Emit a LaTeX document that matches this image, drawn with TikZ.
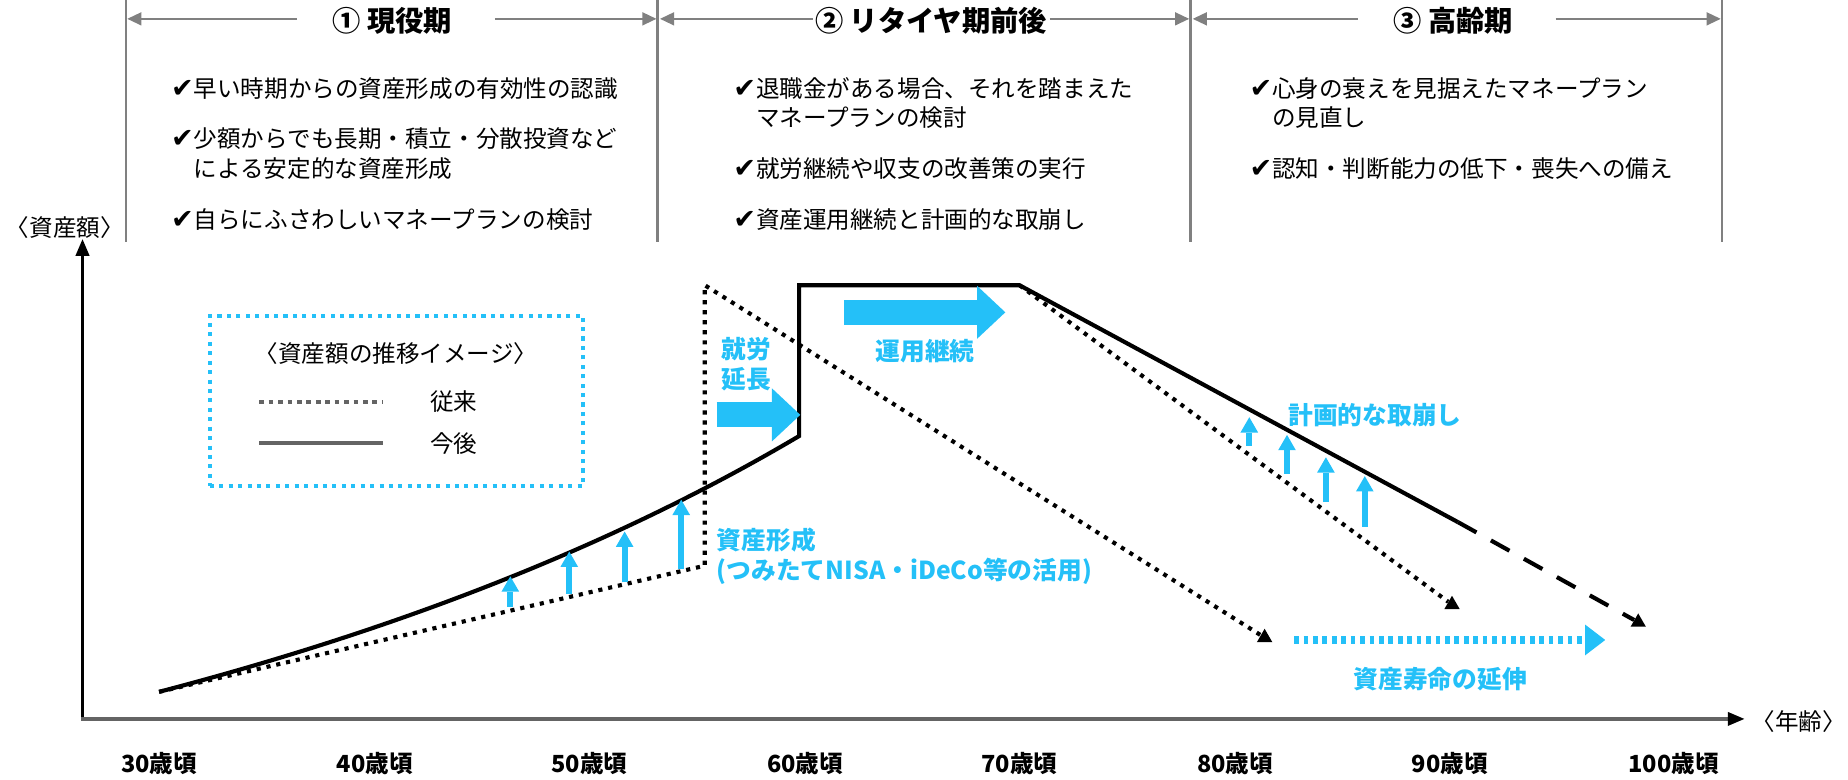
\documentclass[tikz,border=0pt]{standalone}
\usepackage{fontspec}
\setmainfont{Noto Sans CJK JP}
\newfontfamily\symfont{DejaVu Sans}
\usetikzlibrary{arrows.meta,shapes.geometric}
\definecolor{aqua}{RGB}{36,192,248}
\definecolor{hdrgray}{RGB}{128,128,128}
\definecolor{leggray}{RGB}{100,100,100}
\newcommand{\chk}{{\symfont\fontsize{23}{25}\selectfont\char"2714}}
\begin{document}
\begin{tikzpicture}[x=1pt,y=-1pt,
  vline/.style={draw=hdrgray,line width=2pt},
  harrow/.style={draw=hdrgray,line width=1.5pt,-{Triangle[length=12pt,width=11pt]}},
  ttl/.style={font=\fontsize{24}{28}\selectfont\bfseries,inner sep=0pt},
  blt/.style={anchor=west,align=left,inner sep=0pt,font=\fontsize{20}{25}\selectfont},
  axlbl/.style={font=\fontsize{20}{22}\selectfont,inner sep=0pt},
  agelbl/.style={font=\fontsize{20}{22}\selectfont\bfseries,inner sep=0pt},
  lgtxt/.style={font=\fontsize{20}{24}\selectfont,inner sep=0pt},
  newline/.style={draw=black,line width=3.5pt,line join=miter},
  oldline/.style={draw=black,line width=3.5pt,dash pattern=on 3.5pt off 5pt},
  dashline/.style={draw=black,line width=3.5pt,dash pattern=on 18pt off 14pt},
  endmark/.style={regular polygon,regular polygon sides=3,fill=black,inner sep=0pt,minimum size=15pt},
  bigarrow/.style={draw=aqua,line width=21pt,-{Triangle[length=24pt,width=45pt,line width=0pt]}},
  uparrow/.style={draw=aqua,line width=5pt,-{Triangle[length=13pt,width=15pt,line width=0pt]}},
  aqlbl/.style={text=aqua,font=\fontsize{21}{26}\selectfont\bfseries,inner sep=0pt,align=left}
]
\useasboundingbox (0,0) rectangle (1568,661);

% ---------- header ----------
\foreach \n/\x in {1/107,2/558,3/1010,4/1461}{
  \coordinate (vt\n) at (\x,0);
  \coordinate (vb\n) at (\x,205);
  \coordinate (va\n) at (\x,16);
  \draw[vline] (vt\n) -- (vb\n);
}
\node[ttl] (t1) at (333,18) {① 現役期};
\node[ttl] (t2) at (790,18) {② リタイヤ期前後};
\node[ttl] (t3) at (1233,18) {③ 高齢期};
\draw[harrow] ([xshift=-30pt,yshift=2pt]t1.west) -- ([xshift=1pt]va1);
\draw[harrow] ([xshift=36pt,yshift=2pt]t1.east) -- ([xshift=-1pt]va2);
\draw[harrow] ([xshift=-2pt,yshift=2pt]t2.west) -- ([xshift=2pt]va2);
\draw[harrow] ([xshift=2pt,yshift=2pt]t2.east) -- ([xshift=-1pt]va3);
\draw[harrow] ([xshift=-30pt,yshift=2pt]t3.west) -- ([xshift=2pt]va3);
\draw[harrow] ([xshift=36pt,yshift=2pt]t3.east) -- ([xshift=-1pt]va4);

% bullets
\node[blt] (b11) at (145,75) {\chk 早い時期からの資産形成の有効性の認識};
\node[blt] (b12) at (145,130.5) {\chk 少額からでも長期・積立・分散投資など\\\phantom{\chk}による安定的な資産形成};
\node[blt] (b13) at (145,186) {\chk 自らにふさわしいマネープランの検討};
\node[blt] (b21) at (622,87.5) {\chk 退職金がある場合、それを踏まえた\\\phantom{\chk}マネープランの検討};
\node[blt] (b22) at (622,143) {\chk 就労継続や収支の改善策の実行};
\node[blt] (b23) at (622,186) {\chk 資産運用継続と計画的な取崩し};
\node[blt] (b31) at (1060,87.5) {\chk 心身の衰えを見据えたマネープラン\\\phantom{\chk}の見直し};
\node[blt] (b32) at (1060,143) {\chk 認知・判断能力の低下・喪失への備え};

% ---------- axes ----------
\coordinate (origin) at (70,610);
\coordinate (ytop) at (70,203);
\coordinate (xend) at (1480,610);
\draw[draw=black,line width=2pt,-{Triangle[length=14pt,width=12pt,line width=0pt]}] (origin) -- (ytop);
\draw[draw=leggray,line width=3pt,-{Triangle[length=14pt,width=12pt,line width=0pt,color=black]}] ([xshift=-1pt]origin) -- (xend);
\node[axlbl] (ylab) at (55,193) {〈資産額〉};
\node[axlbl,anchor=west] (xlab) at (1486,612) {〈年齢〉};
\foreach \a/\x in {30/135,40/318,50/500,60/683,70/865,80/1048,90/1230}{
  \node[agelbl] (age\a) at (\x,648) {\a 歳頃};
}
\node[agelbl] (age100) at (1420,648) {100歳頃};

% ---------- legend ----------
\node[draw=aqua,line width=3.5pt,dash pattern=on 3.5pt off 4.5pt,minimum width=317pt,minimum height=144pt,inner sep=0pt] (legend) at (336.5,340) {};
\node[lgtxt] (lgt) at (336,300) {〈資産額の推移イメージ〉};
\coordinate (la1) at (220,341);
\coordinate (la2) at (325,341);
\coordinate (lb1) at (220,376);
\coordinate (lb2) at (325,376);
\draw[draw=leggray,line width=4pt,dash pattern=on 4pt off 4pt] (la1) -- (la2);
\draw[draw=leggray,line width=3pt] (lb1) -- (lb2);
\node[lgtxt] (lg1) at (385,341) {従来};
\node[lgtxt] (lg2) at (385,376) {今後};

% ---------- curves ----------
\coordinate (s0) at (135,587);
\coordinate (c1) at (678,370);
\coordinate (c2) at (678,242);
\coordinate (c3) at (865,242);
\coordinate (c4) at (1237,443);
\coordinate (o1) at (598,480);
\coordinate (o2) at (598,242);
\node[endmark] (m1) at (1073,541) {};
\node[endmark] (m2) at (1232,513) {};
\node[endmark] (m3) at (1390,528) {};

\draw[oldline] (s0) -- (o1) -- (o2) -- (m1);
\draw[oldline] (c3) -- (m2);
\draw[newline] (s0) .. controls (345,532) and (526,460) .. (c1) -- (c2) -- (c3) -- (c4);
\draw[dashline] (c4) -- (m3);

% ---------- cyan arrows ----------
\coordinate (w1) at (608,352);
\coordinate (w2) at (679,352);
\draw[bigarrow] (w1) -- (w2);
\coordinate (u1) at (716,265);
\coordinate (u2) at (853,265);
\draw[bigarrow] (u1) -- (u2);

\foreach \i/\x/\ya/\yb in {1/433/515/489,2/483/504/468,3/530/494/451,4/578/483/424,
                           5/1060/378/354,6/1092/402/369,7/1125/426/388,8/1158/447/404}{
  \coordinate (ua\i) at (\x,\ya);
  \coordinate (ub\i) at (\x,\yb);
  \draw[uparrow] (ua\i) -- (ub\i);
}

\coordinate (d1) at (1098,543);
\coordinate (d2) at (1362,543);
\draw[draw=aqua,line width=7pt,dash pattern=on 4pt off 4pt,-{Triangle[length=17pt,width=26pt,line width=0pt]}] (d1) -- (d2);

% cyan labels
\node[aqlbl,anchor=west] (lw) at (612,309) {就労\\延長};
\node[aqlbl] (lu) at (785,298) {運用継続};
\node[aqlbl,anchor=west] (lf) at (608,472) {資産形成\\(つみたてNISA・iDeCo等の活用)};
\node[aqlbl,anchor=west] (lk) at (1093,352) {計画的な取崩し};
\node[aqlbl] (le) at (1222,576) {資産寿命の延伸};
\end{tikzpicture}
\end{document}
